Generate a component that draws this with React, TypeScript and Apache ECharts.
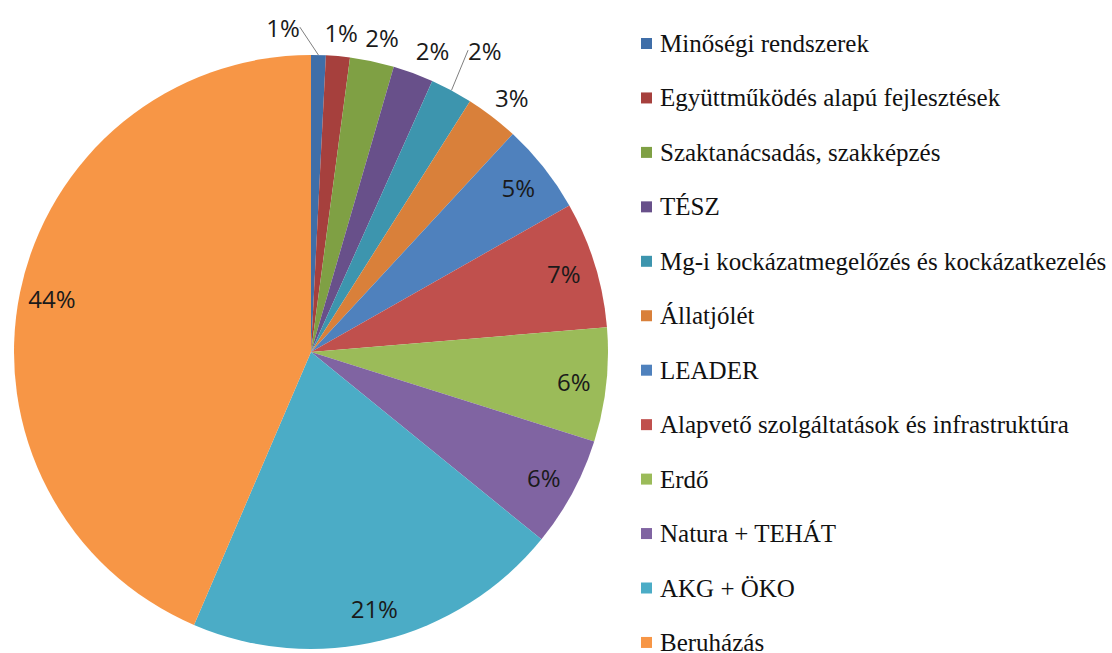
import React, { useEffect, useRef } from "react";
import * as echarts from "echarts";

const categories = [
  "Minőségi rendszerek",
  "Együttműködés alapú fejlesztések",
  "Szaktanácsadás, szakképzés",
  "TÉSZ",
  "Mg-i kockázatmegelőzés és kockázatkezelés",
  "Állatjólét",
  "LEADER",
  "Alapvető szolgáltatások és infrastruktúra",
  "Erdő",
  "Natura + TEHÁT",
  "AKG + ÖKO",
  "Beruházás",
];

const shares = [0.8, 1.3, 2.4, 2.2, 2.3, 2.9, 4.9, 6.9, 6.2, 6.0, 20.6, 43.6];

const colors = [
  "#3F6EA8",
  "#A6403D",
  "#7FA044",
  "#68508A",
  "#3D95AE",
  "#D9803A",
  "#4F81BD",
  "#C0504D",
  "#9BBB59",
  "#8064A2",
  "#4BACC6",
  "#F79646",
];

// number of small slices whose labels sit outside the pie
const outsideCount = 6;

const SERIF = "Liberation Serif";

export default function App() {
  const ref = useRef<HTMLDivElement>(null);

  useEffect(() => {
    document.body.style.margin = "0";
    const chart = echarts.init(ref.current!, null, { renderer: "svg" });

    const nudges: Record<number, [number, number]> = {
      0: [-41, -4],
      1: [-4, 0],
      3: [6, 0],
      4: [17, -19],
    };

    chart.setOption({
      animation: false,
      backgroundColor: "#ffffff",
      color: colors,
      textStyle: { fontFamily: SERIF },
      legend: {
        orient: "vertical",
        left: 641,
        top: 31,
        height: 640,
        padding: 0,
        icon: "rect",
        itemWidth: 11,
        itemHeight: 11,
        itemGap: 29.45,
        selectedMode: false,
        data: categories,
        formatter: (name: string) => "{t|" + name + "}",
        textStyle: {
          fontFamily: SERIF,
          fontSize: 25,
          color: "#111111",
          padding: [0, 0, 0, 3],
          rich: {
            t: {
              fontFamily: SERIF,
              fontSize: 25,
              color: "#111111",
            },
          },
        },
      },
      series: [
        {
          type: "pie",
          center: [311, 352],
          radius: [0, 297],
          startAngle: 90,
          clockwise: true,
          avoidLabelOverlap: false,
          silent: true,
          itemStyle: { borderWidth: 0 },
          label: { show: false },
          labelLine: { show: false },
          data: categories.map((name, i) => ({ name, value: shares[i] })),
        },
        {
          type: "pie",
          center: [311, 352],
          radius: [226, 297],
          startAngle: 90,
          clockwise: true,
          avoidLabelOverlap: false,
          silent: true,
          emphasis: { disabled: true },
          itemStyle: { color: "rgba(0,0,0,0)", borderWidth: 0 },
          label: {
            show: true,
            formatter: (p: any) => Math.round(p.percent) + "%",
            fontFamily: "Open Sans",
            fontSize: 24,
            color: "#1a1a1a",
          },
          labelLine: {
            length: 24,
            length2: 0,
            lineStyle: { color: "#7f7f7f", width: 1 },
          },
          labelLayout: (params: any) => {
            if (params.seriesIndex !== 1) return {};
            const i = params.dataIndex;
            if (i >= outsideCount) return {};
            const n = nudges[i] || [0, 0];
            const r = params.labelRect;
            return {
              x: r.x + n[0],
              y: r.y + r.height / 2 + n[1],
              align: "center",
              verticalAlign: "middle",
            };
          },
          data: categories.map((name, i) => ({
            name,
            value: shares[i],
            label: { position: i < outsideCount ? "outside" : "inside" },
            labelLine: { show: i === 0 || i === 4 },
          })),
        },
      ],
    });

    return () => chart.dispose();
  }, []);

  return <div ref={ref} style={{ width: 1112, height: 653 }} />;
}
